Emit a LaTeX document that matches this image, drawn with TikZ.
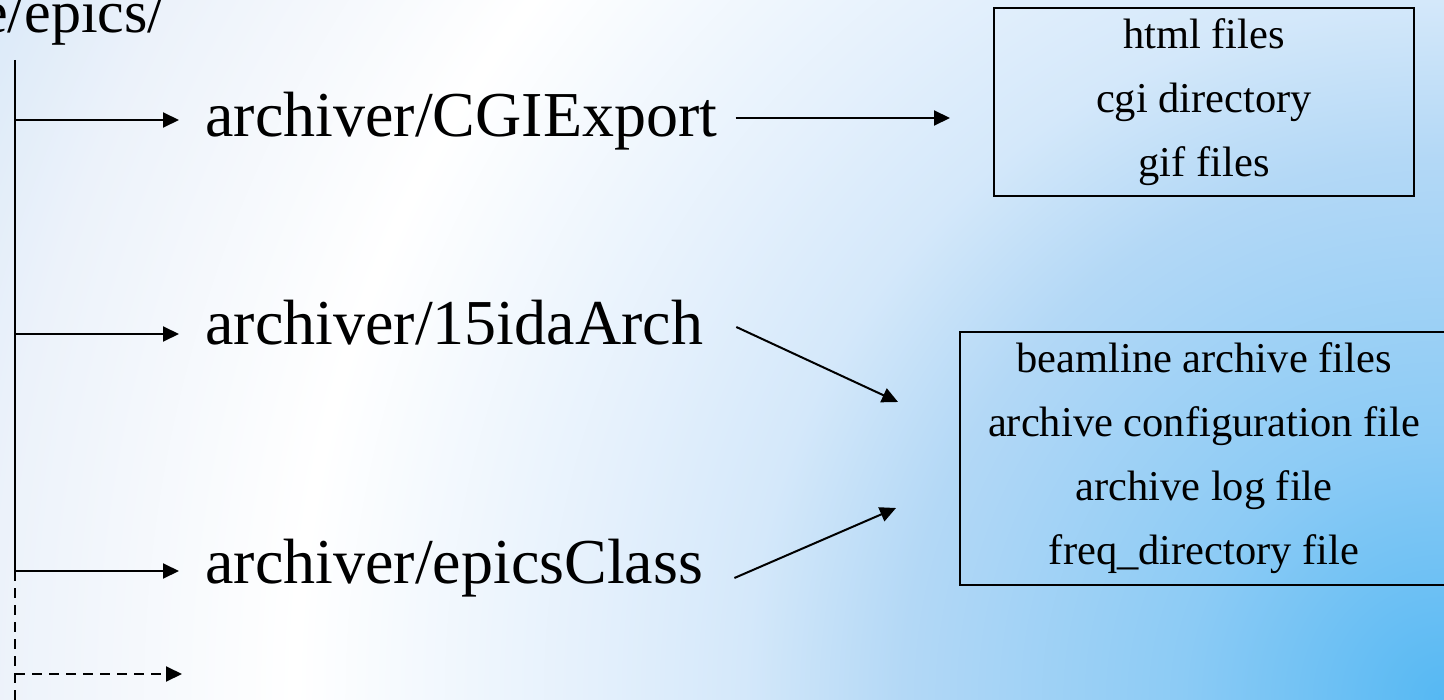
\documentclass[tikz,border=0pt]{standalone}
\usepackage{fontspec}
\setmainfont{Liberation Serif}
\usetikzlibrary{positioning}
\usetikzlibrary{arrows.meta}
\usetikzlibrary{calc}

\definecolor{bgA}{RGB}{85,184,243}
\definecolor{bgB}{RGB}{140,203,245}
\definecolor{bgC}{RGB}{179,216,246}
\definecolor{bgD}{RGB}{212,232,250}
\definecolor{bgE}{RGB}{228,240,252}
\definecolor{bgF}{RGB}{236,242,250}
\definecolor{bgG}{RGB}{214,231,248}
\pgfdeclareradialshading{bgshade}{\pgfpoint{0bp}{0bp}}{%
    color(0bp)=(bgA); color(4bp)=(bgB); color(8.2bp)=(bgC); color(10.6bp)=(bgD);
    color(12.9bp)=(bgE); color(17.4bp)=(white); color(22bp)=(bgF);
    color(25bp)=(bgG); color(50bp)=(bgG)}

\begin{document}
\begin{tikzpicture}[
    x=0.5pt, y=-0.5pt,
    dirlabel/.style={anchor=base west, inner xsep=13pt, font=\fontsize{32}{38}\selectfont},
    filebox/.style={draw=black, line width=1pt, align=center, inner sep=0pt, font=\fontsize{21.25}{32}\selectfont},
    branch/.style={line width=1pt, -{Triangle[length=8pt, width=7.5pt]}},
    future/.style={branch, dash pattern=on 5pt off 3.5pt}
]
    \useasboundingbox (0,0) rectangle (1444,700);
    \clip (0,0) rectangle (1444,700);
    \shade[shading=bgshade] (1444,700) circle (1650);

    % Root directory
    \node[anchor=base east, inner sep=0pt, font=\fontsize{30}{36}\selectfont] (root) at (165,33) {e/epics/};

    % Tree trunk
    \coordinate (top) at (15,60);
    \coordinate (b1) at (15,120);
    \coordinate (b2) at (15,334);
    \coordinate (b3) at (15,571);
    \coordinate (b4) at (15,674);
    \coordinate (bottom) at (15,710);
    \draw[line width=1pt] (top) -- (b3);
    \draw[line width=1pt, dash pattern=on 5pt off 3.5pt] (b3) -- (bottom);

    % Sub directories
    \node[dirlabel] (cgi) at (179,137) {archiver/CGIExport};
    \node[dirlabel] (ida) at (179,344) {archiver/15idaArch};
    \node[dirlabel] (cls) at (179,583) {archiver/epicsClass};

    \draw[branch] (b1) -- (b1 -| cgi.west);
    \draw[branch] (b2) -- (b2 -| ida.west);
    \draw[branch] (b3) -- (b3 -| cls.west);
    \coordinate (next) at (182,674);
    \draw[future] (b4) -- (next);

    % Contents
    \node[filebox, minimum width=210pt, minimum height=94pt] (web) at (1204,102)
        {html files\\cgi directory\\gif files};
    \node[filebox, minimum width=244pt, minimum height=126.5pt] (arch) at (1204,458.5)
        {beamline archive files\\archive configuration file\\archive log file\\freq\_directory file};

    \draw[branch] ($(cgi.base east)+(-8,-19)$) -- ($(web.west)+(-43,16)$);
    \draw[branch] ($(ida.base east)+(7,-17)$) -- ($(arch.west)+(-61,-56.5)$);
    \draw[branch] ($(cls.base east)+(5,-5)$) -- ($(arch.west)+(-63,49.5)$);
\end{tikzpicture}
\end{document}
